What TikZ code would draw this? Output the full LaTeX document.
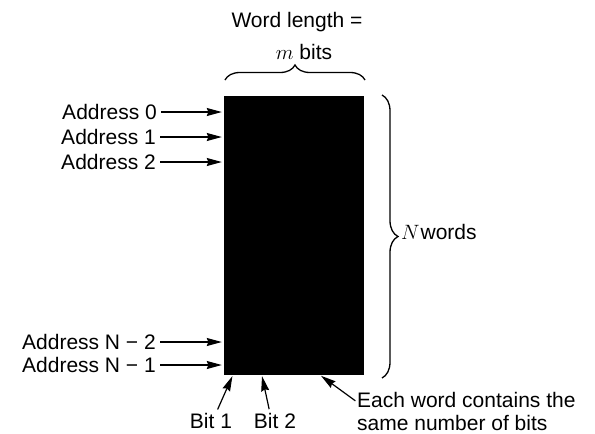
\documentclass[tikz,border=0pt]{standalone}
\usepackage{fontspec}
\setmainfont{Liberation Sans}
\usetikzlibrary{arrows.meta,decorations.pathreplacing}

\tikzset{
  LabelStyle/.style = {
    inner sep = 0pt,
    font = \fontsize{21}{23}\selectfont},
  ArrowStyle/.style = {
    line width = 1.2pt,
    -{Stealth[length=15pt,width=8pt,inset=1.5pt]}},
  BraceStyle/.style = {
    line width = 1.3pt,
    decorate,
    decoration = {brace, amplitude=#1}}
}

\begin{document}
\begin{tikzpicture}[x=1pt,y=-1pt]
  \useasboundingbox (0,0) rectangle (595,434);
  % the memory block
  \node[fill=black, inner sep=0pt, minimum width=140pt, minimum height=279pt] (mem) at (294,235.5) {};
  % word length on top
  \node[LabelStyle] (wl) at (297,22) {Word length =};
  \node[LabelStyle] (mb) at (304,52) {$m$ bits};
  \draw[BraceStyle=15pt] (225,80) -- (365,80);
  % number of words at the side
  \draw[BraceStyle=16pt] (382,95) -- (382,378);
  \node[LabelStyle, anchor=west] (nw) at (401,232) {$N$\hspace{1pt}words};
  % address lines
  \node[LabelStyle, anchor=east] (a0) at (157,112) {Address 0};
  \node[LabelStyle, anchor=east] (a1) at (156,137) {Address 1};
  \node[LabelStyle, anchor=east] (a2) at (156,162) {Address 2};
  \node[LabelStyle, anchor=east] (an2) at (156,342) {Address N − 2};
  \node[LabelStyle, anchor=east] (an1) at (156,365) {Address N − 1};
  \foreach \n in {a0,a1,a2,an2,an1}
    \draw[ArrowStyle, shorten <=4pt, shorten >=2pt] (\n.east) -- (\n.east -| mem.west);
  % bits along the bottom
  \node[LabelStyle] (b1) at (211,421) {Bit 1};
  \node[LabelStyle] (b2) at (275,421) {Bit 2};
  \node[LabelStyle, anchor=north west, align=left] (each) at (357,392)
    {Each word contains the\\same number of bits};
  \draw[ArrowStyle, shorten <=4pt, shorten >=1pt] ([xshift=5pt]b1.north) -- ([xshift=9pt]mem.south west);
  \draw[ArrowStyle, shorten <=4pt, shorten >=1pt] ([xshift=-5pt]b2.north) -- ([xshift=38pt]mem.south west);
  \draw[ArrowStyle, shorten <=2pt, shorten >=1pt] ([yshift=-10pt]each.north west) -- ([xshift=-44pt]mem.south east);
\end{tikzpicture}
\end{document}
